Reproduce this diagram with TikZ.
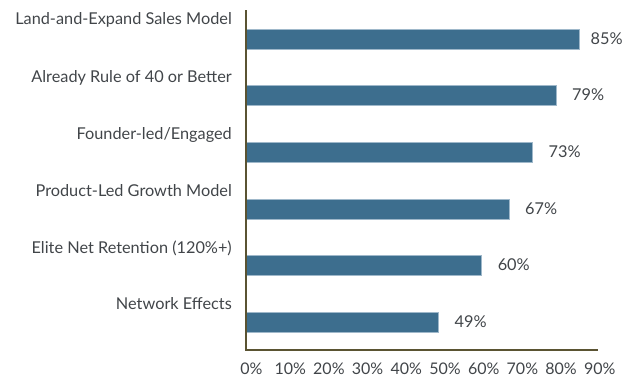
\documentclass[tikz,border=0pt]{standalone}
\usepackage{fontspec}
\setmainfont{Lato}
\definecolor{barc}{HTML}{3D6E8E}
\definecolor{baredge}{HTML}{9FB8CA}
\definecolor{axisc}{HTML}{5A5332}
\definecolor{txt}{HTML}{414549}
\begin{document}
\begin{tikzpicture}[x=1pt,y=-1pt,
  bar/.style={fill=barc,draw=baredge,line width=0.5pt},
  axis/.style={draw=axisc,line width=1.6pt},
  cat/.style={anchor=east,text=txt,font=\fontsize{16.3}{18}\selectfont,inner sep=0pt},
  val/.style={anchor=west,text=txt,font=\fontsize{16.3}{18}\selectfont,inner sep=0pt},
  tick/.style={anchor=center,text=txt,font=\fontsize{16}{18}\selectfont,inner sep=0pt}]
\useasboundingbox (0,0) rectangle (626,378);
\coordinate (o) at (246,350);
\coordinate (top) at (246,10);
\coordinate (xend) at (598,350);
% bars
\foreach \v/\yc/\lab/\ly/\gap/\n in {
  85/39/{Land-and-Expand Sales Model}/20/11/a,
  79/95/{Already Rule of 40 or Better}/78/16/b,
  73/152/{Founder-led/Engaged}/135/16/c,
  67/209/{Product-Led Growth Model}/191/16/d,
  60/265/{Elite Net Retention (120\%+)}/248/16/e,
  49/322/{Network Effects}/304/16/f}{
  \node[bar,minimum width={3.918*\v pt},minimum height=20pt,anchor=west,inner sep=0pt] (bar\n) at (246,\yc) {};
  \node[cat] (cat\n) at (232,\ly) {\lab};
  \node[val] (val\n) at ([xshift=\gap pt]bar\n.east) {\v\%};
}
\draw[axis] (top) -- (o) -- (xend);
\foreach \i in {0,...,9}{
  \node[tick] (t\i) at ({251.5+38.7*\i},369) {\the\numexpr\i*10\relax\%};
}
\end{tikzpicture}
\end{document}
